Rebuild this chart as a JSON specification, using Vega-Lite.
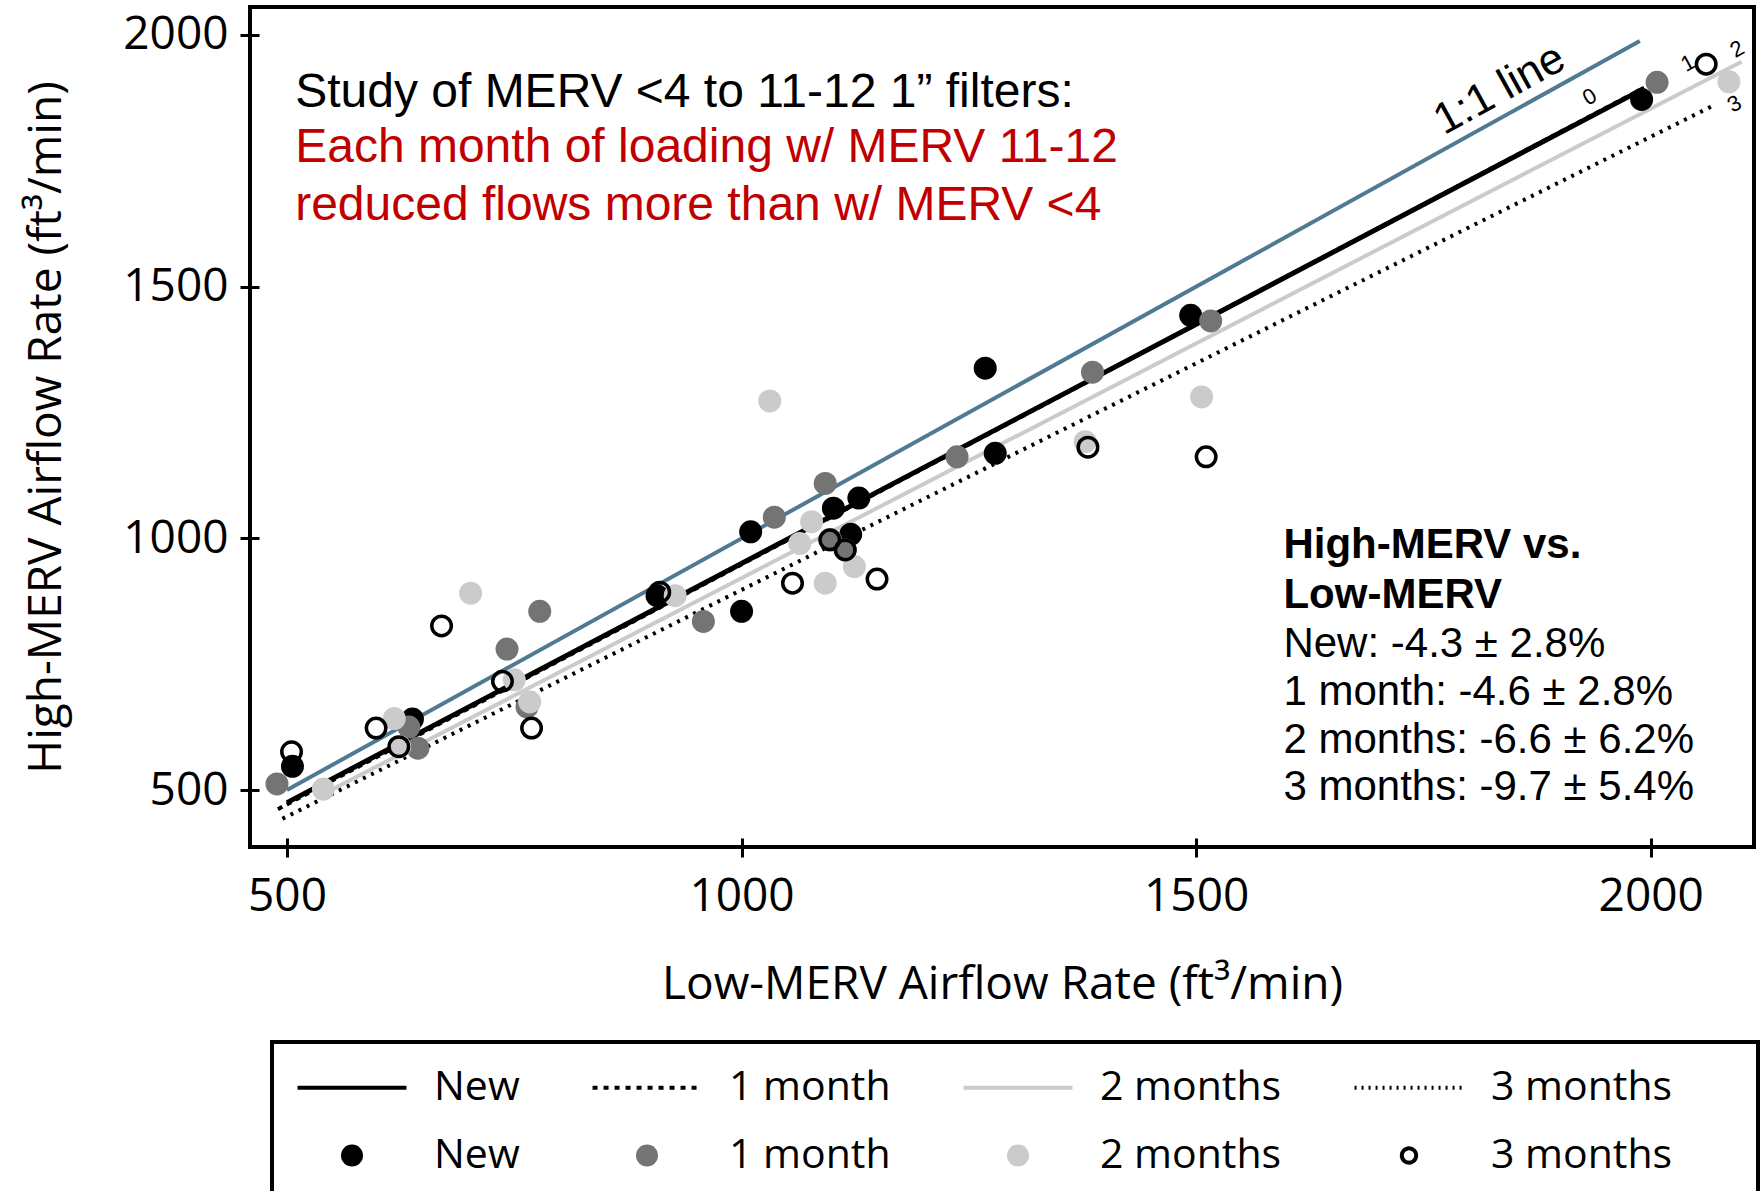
{
  "$schema": "https://vega.github.io/schema/vega-lite/v6.json",
  "width": 1504,
  "height": 840,
  "autosize": "none",
  "padding": {"left": 250, "top": 7, "right": 8, "bottom": 344},
  "background": "white",
  "config": {
    "view": {"stroke": "black", "strokeWidth": 4},
    "legend": {"strokeColor": "black", "strokeWidth": 4},
    "axis": {
      "grid": false, "domain": false, "offset": -9, "tickSize": 19, "tickWidth": 3, "tickColor": "black",
      "labelFont": "Open Sans", "labelFontSize": 46, "labelColor": "black", "labelFlush": false, "labelOverlap": false,
      "titleFont": "Open Sans", "titleFontSize": 46, "titleFontWeight": "normal", "titleColor": "black"
    }
  },
  "datasets": {
    "pts": [
      {"key": "P:New", "low": 506, "high": 547},
      {"key": "P:New", "low": 638, "high": 641},
      {"key": "P:New", "low": 907, "high": 886},
      {"key": "P:New", "low": 1000, "high": 855},
      {"key": "P:New", "low": 1010, "high": 1013},
      {"key": "P:New", "low": 1101, "high": 1060},
      {"key": "P:New", "low": 1129, "high": 1080},
      {"key": "P:New", "low": 1120, "high": 1008},
      {"key": "P:New", "low": 1268, "high": 1338},
      {"key": "P:New", "low": 1279, "high": 1169},
      {"key": "P:New", "low": 1494, "high": 1443},
      {"key": "P:New", "low": 1990, "high": 1872},
      {"key": "P:1 month", "low": 489, "high": 512},
      {"key": "P:1 month", "low": 634, "high": 625},
      {"key": "P:1 month", "low": 644, "high": 583},
      {"key": "P:1 month", "low": 742, "high": 780},
      {"key": "P:1 month", "low": 764, "high": 665},
      {"key": "P:1 month", "low": 778, "high": 855},
      {"key": "P:1 month", "low": 958, "high": 835},
      {"key": "P:1 month", "low": 1036, "high": 1042},
      {"key": "P:1 month", "low": 1092, "high": 1109},
      {"key": "P:1 month", "low": 1098, "high": 997},
      {"key": "P:1 month", "low": 1114, "high": 977},
      {"key": "P:1 month", "low": 1237, "high": 1162},
      {"key": "P:1 month", "low": 1386, "high": 1330},
      {"key": "P:1 month", "low": 1516, "high": 1432},
      {"key": "P:1 month", "low": 2007, "high": 1906},
      {"key": "P:2 months", "low": 540, "high": 502},
      {"key": "P:2 months", "low": 618, "high": 642},
      {"key": "P:2 months", "low": 624, "high": 586},
      {"key": "P:2 months", "low": 702, "high": 891},
      {"key": "P:2 months", "low": 750, "high": 719},
      {"key": "P:2 months", "low": 767, "high": 675},
      {"key": "P:2 months", "low": 927, "high": 886},
      {"key": "P:2 months", "low": 1031, "high": 1273},
      {"key": "P:2 months", "low": 1064, "high": 990},
      {"key": "P:2 months", "low": 1077, "high": 1033},
      {"key": "P:2 months", "low": 1092, "high": 911},
      {"key": "P:2 months", "low": 1124, "high": 944},
      {"key": "P:2 months", "low": 1378, "high": 1192},
      {"key": "P:2 months", "low": 1506, "high": 1281},
      {"key": "P:2 months", "low": 2086, "high": 1907},
      {"key": "P:3 months", "low": 505, "high": 576},
      {"key": "P:3 months", "low": 598, "high": 623},
      {"key": "P:3 months", "low": 623, "high": 586},
      {"key": "P:3 months", "low": 670, "high": 826},
      {"key": "P:3 months", "low": 737, "high": 716},
      {"key": "P:3 months", "low": 769, "high": 623},
      {"key": "P:3 months", "low": 910, "high": 893},
      {"key": "P:3 months", "low": 1056, "high": 911},
      {"key": "P:3 months", "low": 1097, "high": 997},
      {"key": "P:3 months", "low": 1114, "high": 977},
      {"key": "P:3 months", "low": 1149, "high": 919},
      {"key": "P:3 months", "low": 1381, "high": 1181},
      {"key": "P:3 months", "low": 1511, "high": 1162},
      {"key": "P:3 months", "low": 2061, "high": 1942}
    ],
    "fits": [
      {"series": "1:1", "low": 500, "high": 500},
      {"series": "1:1", "low": 1988, "high": 1988},
      {"series": "New", "low": 500, "high": 475},
      {"series": "New", "low": 1992, "high": 1893},
      {"series": "1 month", "low": 490, "high": 462},
      {"series": "1 month", "low": 2000, "high": 1902},
      {"series": "2 months", "low": 540, "high": 492},
      {"series": "2 months", "low": 2100, "high": 1947},
      {"series": "3 months", "low": 495, "high": 443},
      {"series": "3 months", "low": 2068, "high": 1859}
    ],
    "notes": [
      {"kind": "head", "t": "Study of MERV <4 to 11-12 1\u201d filters:", "low": 509, "high": 1857},
      {"kind": "red", "t": ["Each month of loading w/ MERV 11-12", "reduced flows more than w/ MERV <4"], "low": 509, "high": 1748},
      {"kind": "bold", "t": ["High-MERV vs.", "Low-MERV"], "low": 1596, "high": 961},
      {"kind": "stats", "t": ["New: -4.3 \u00b1 2.8%", "1 month: -4.6 \u00b1 2.8%", "2 months: -6.6 \u00b1 6.2%", "3 months: -9.7 \u00b1 5.4%"], "low": 1596, "high": 764},
      {"kind": "oneone", "t": "1:1 line", "low": 1834, "high": 1891},
      {"kind": "end", "t": "0", "low": 1933, "high": 1877},
      {"kind": "end", "t": "1", "low": 2041, "high": 1944},
      {"kind": "end", "t": "2", "low": 2095, "high": 1972},
      {"kind": "end", "t": "3", "low": 2092, "high": 1863}
    ]
  },
  "encoding": {
    "x": {
      "field": "low", "type": "quantitative",
      "scale": {"domain": [459.3, 2113.6], "nice": false, "zero": false},
      "axis": {"values": [500, 1000, 1500, 2000], "format": "d", "title": "Low-MERV Airflow Rate (ft\u00b3/min)", "labelPadding": 17, "titlePadding": 43}
    },
    "y": {
      "field": "high", "type": "quantitative",
      "scale": {"domain": [386.8, 2055.6], "nice": false, "zero": false},
      "axis": {"values": [500, 1000, 1500, 2000], "format": "d", "title": "High-MERV Airflow Rate (ft\u00b3/min)", "labelPadding": 12, "titlePadding": 52}
    }
  },
  "layer": [
    {
      "data": {"name": "fits"},
      "transform": [{"filter": "datum.series == '1:1'"}],
      "mark": {"type": "line", "color": "#4F7A93", "strokeWidth": 4}
    },
    {
      "data": {"name": "fits"},
      "transform": [{"filter": "datum.series == '3 months'"}],
      "mark": {"type": "line", "color": "black", "strokeWidth": 4, "strokeDash": [3, 6]}
    },
    {
      "data": {"name": "fits"},
      "transform": [{"filter": "datum.series == '2 months'"}],
      "mark": {"type": "line", "color": "#CBCBCB", "strokeWidth": 4}
    },
    {
      "data": {"name": "fits"},
      "transform": [{"filter": "datum.series == 'New'"}],
      "mark": {"type": "line", "color": "black", "strokeWidth": 5}
    },
    {
      "data": {"name": "fits"},
      "transform": [{"filter": "datum.series == '1 month'"}],
      "mark": {"type": "line", "color": "black", "strokeWidth": 4, "strokeDash": [5, 5]}
    },
    {
      "data": {"name": "pts"},
      "transform": [{"filter": "datum.key != 'P:3 months'"}],
      "mark": {"type": "point", "filled": true, "size": 529, "opacity": 1, "strokeWidth": 4},
      "encoding": {
        "fill": {
          "field": "key", "type": "nominal",
          "scale": {
            "domain": ["L:New", "L:1 month", "L:2 months", "L:3 months", "P:New", "P:1 month", "P:2 months", "P:3 months"],
            "range": ["transparent", "transparent", "transparent", "transparent", "black", "#747474", "#CBCBCB", "transparent"]
          },
          "legend": {
            "title": null,
            "orient": "none",
            "legendX": 22,
            "legendY": 1035,
            "direction": "horizontal",
            "columns": 4,
            "columnPadding": 64,
            "rowPadding": 26,
            "padding": 25,
            "symbolSize": 484,
            "symbolStrokeWidth": 4,
            "symbolOffset": 34.5,
            "labelFont": "Open Sans",
            "labelFontSize": 41,
            "labelColor": "black",
            "labelOffset": 61.5,
            "labelLimit": 500,
            "labelExpr": "slice(datum.value, 2) + (slice(datum.value, 2) == '3 months' ? '\u2800\u2800' : '')",
            "strokeColor": "black"
          }
        },
        "stroke": {
          "field": "key", "type": "nominal",
          "scale": {
            "domain": ["L:New", "L:1 month", "L:2 months", "L:3 months", "P:New", "P:1 month", "P:2 months", "P:3 months"],
            "range": ["black", "black", "#CBCBCB", "black", "transparent", "transparent", "transparent", "black"]
          },
          "legend": {"title": null}
        },
        "shape": {
          "field": "key", "type": "nominal",
          "scale": {
            "domain": ["L:New", "L:1 month", "L:2 months", "L:3 months", "P:New", "P:1 month", "P:2 months", "P:3 months"],
            "range": ["M-4.95,0L4.95,0", "M-4.95,0L4.95,0", "M-4.95,0L4.95,0", "M-4.95,0L4.95,0", "circle", "circle", "circle", "M0.65,0A0.65,0.65,0,1,1,-0.65,0A0.65,0.65,0,1,1,0.65,0Z"]
          },
          "legend": {"title": null}
        },
        "strokeDash": {
          "field": "key", "type": "nominal",
          "scale": {
            "domain": ["L:New", "L:1 month", "L:2 months", "L:3 months", "P:New", "P:1 month", "P:2 months", "P:3 months"],
            "range": [[1, 0], [5, 6], [1, 0], [2, 5], [1, 0], [1, 0], [1, 0], [1, 0]]
          },
          "legend": {"title": null}
        }
      }
    },
    {
      "data": {"name": "pts"},
      "transform": [{"filter": "datum.key == 'P:3 months'"}],
      "mark": {"type": "point", "filled": false, "size": 380, "strokeWidth": 3.5, "opacity": 1, "color": "black"}
    },
    {
      "data": {"name": "notes"},
      "transform": [{"filter": "datum.kind == 'head'"}],
      "mark": {"type": "text", "align": "left", "baseline": "alphabetic", "font": "Liberation Sans", "fontSize": 48, "color": "black"},
      "encoding": {"text": {"field": "t"}}
    },
    {
      "data": {"name": "notes"},
      "transform": [{"filter": "datum.kind == 'red'"}],
      "mark": {"type": "text", "align": "left", "baseline": "alphabetic", "font": "Liberation Sans", "fontSize": 48, "lineHeight": 58, "color": "#C00000"},
      "encoding": {"text": {"field": "t"}}
    },
    {
      "data": {"name": "notes"},
      "transform": [{"filter": "datum.kind == 'bold'"}],
      "mark": {"type": "text", "align": "left", "baseline": "alphabetic", "font": "Liberation Sans", "fontSize": 42, "fontWeight": "bold", "lineHeight": 50, "color": "black"},
      "encoding": {"text": {"field": "t"}}
    },
    {
      "data": {"name": "notes"},
      "transform": [{"filter": "datum.kind == 'stats'"}],
      "mark": {"type": "text", "align": "left", "baseline": "alphabetic", "font": "Liberation Sans", "fontSize": 42, "lineHeight": 47.7, "color": "black"},
      "encoding": {"text": {"field": "t"}}
    },
    {
      "data": {"name": "notes"},
      "transform": [{"filter": "datum.kind == 'oneone'"}],
      "mark": {"type": "text", "align": "center", "baseline": "middle", "font": "Liberation Sans", "fontSize": 44, "angle": 331, "color": "black"},
      "encoding": {"text": {"field": "t"}}
    },
    {
      "data": {"name": "notes"},
      "transform": [{"filter": "datum.kind == 'end'"}],
      "mark": {"type": "text", "align": "center", "baseline": "middle", "font": "Liberation Sans", "fontSize": 22, "angle": 331, "color": "black"},
      "encoding": {"text": {"field": "t"}}
    }
  ]
}
